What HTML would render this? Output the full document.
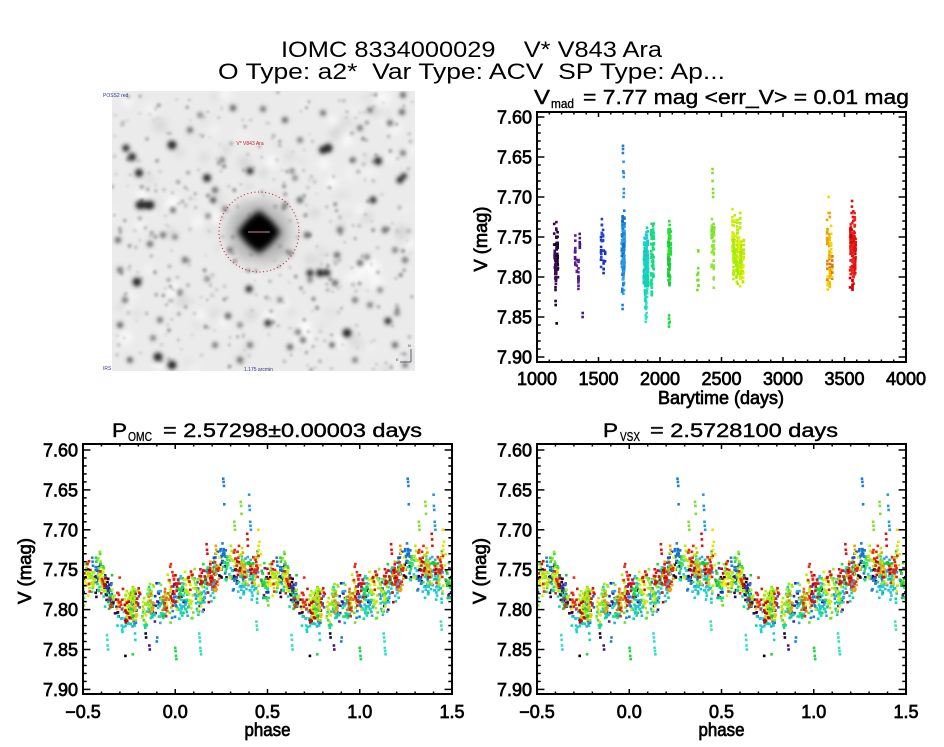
<!DOCTYPE html>
<html>
<head>
<meta charset="utf-8">
<style>
html,body{margin:0;padding:0;background:#fff;}
svg{display:block;}
text{font-family:"Liberation Sans",sans-serif;white-space:pre;}
</style>
</head>
<body>
<svg id="s" width="944" height="747" viewBox="0 0 944 747" xmlns="http://www.w3.org/2000/svg" xml:space="preserve">
<defs>
<filter id="b1" x="-50%" y="-50%" width="200%" height="200%"><feGaussianBlur stdDeviation="1.4"/></filter>
<filter id="b15" x="-50%" y="-50%" width="200%" height="200%"><feGaussianBlur stdDeviation="2"/></filter>
<filter id="b3" x="-50%" y="-50%" width="200%" height="200%"><feGaussianBlur stdDeviation="3.5"/></filter>
<filter id="b5" x="-50%" y="-50%" width="200%" height="200%"><feGaussianBlur stdDeviation="7"/></filter>
<clipPath id="ci"><rect x="112" y="91" width="303" height="280"/></clipPath>
<clipPath id="c1"><rect x="537" y="112" width="369" height="250"/></clipPath>
<clipPath id="c2"><rect x="83" y="444" width="369" height="250"/></clipPath>
<clipPath id="c3"><rect x="537" y="444" width="369" height="250"/></clipPath>
</defs>
<rect width="944" height="747" fill="#ffffff"/>

<!-- Main titles -->
<text x="281" y="57" font-size="22" textLength="381" lengthAdjust="spacingAndGlyphs" xml:space="preserve">IOMC 8334000029    V* V843 Ara</text>
<text x="218" y="79" font-size="22" textLength="507" lengthAdjust="spacingAndGlyphs" xml:space="preserve">O Type: a2*  Var Type: ACV  SP Type: Ap...</text>

<!-- Image panel -->
<g clip-path="url(#ci)">
  <rect x="112" y="91" width="303" height="280" fill="#ebebeb"/>
  <g id="mottle" filter="url(#b3)"></g>
  <g id="faint" filter="url(#b1)"></g>
  <g id="stars" filter="url(#b15)"></g>
  <line x1="112" y1="232" x2="415" y2="232" stroke="#a0a0a0" stroke-width="2" filter="url(#b1)"/>
  <line x1="259" y1="91" x2="259" y2="371" stroke="#aaaaaa" stroke-width="2" filter="url(#b1)"/>
  <circle cx="259" cy="232" r="32" fill="#8a8a8a" opacity="0.55" filter="url(#b5)"/>
  <circle cx="259" cy="232" r="15" fill="#1a1a1a" filter="url(#b3)"/>
  <polygon points="259,210 281,232 259,254 237,232" fill="#050505" filter="url(#b3)"/>
  <line x1="228" y1="232" x2="290" y2="232" stroke="#303030" stroke-width="5" filter="url(#b15)"/>
  <line x1="259" y1="202" x2="259" y2="262" stroke="#303030" stroke-width="5" filter="url(#b15)"/>
  <line x1="248" y1="232" x2="270" y2="232" stroke="#c888a8" stroke-width="1"/>
  <circle cx="259" cy="232" r="1" fill="#d02020"/>
  <circle cx="259" cy="232" r="40" fill="none" stroke="#c01818" stroke-width="1" stroke-dasharray="1 2.6"/>
  <text x="250" y="145" font-size="5" fill="#c02020" text-anchor="middle">V* V843 Ara</text>
  <line x1="411" y1="349" x2="411" y2="362" stroke="#404040" stroke-width="0.8"/>
  <line x1="400" y1="362" x2="411" y2="362" stroke="#404060" stroke-width="0.8"/>
</g>
<text x="103" y="97" font-size="5" fill="#2a3a9a">POSS2 red</text>
<text x="103" y="370" font-size="5" fill="#2a3a9a">IRS</text>
<text x="244" y="371" font-size="5" fill="#2a3a9a">1.175 arcmin</text>
<text x="408" y="347" font-size="4" fill="#404040">N</text>
<text x="396" y="361" font-size="4" fill="#404040">E</text>

<!-- Top-right plot -->
<text x="534" y="104" font-size="20" textLength="16" lengthAdjust="spacingAndGlyphs" stroke="#000" stroke-width="0.4">V</text>
<text x="551" y="108" font-size="13" textLength="23" lengthAdjust="spacingAndGlyphs" stroke="#000" stroke-width="0.3">mad</text>
<text x="583" y="104" font-size="20" textLength="326" lengthAdjust="spacingAndGlyphs" stroke="#000" stroke-width="0.4" xml:space="preserve">= 7.77 mag &lt;err_V&gt; = 0.01 mag</text>

<g clip-path="url(#c1)" id="p1"></g>
<rect x="537" y="112" width="369" height="250" fill="none" stroke="#000" stroke-width="2"/>

<g font-size="18" text-anchor="end" stroke="#000" stroke-width="0.7">
<text x="532" y="123.5">7.60</text>
<text x="532" y="163.5">7.65</text>
<text x="532" y="203.5">7.70</text>
<text x="532" y="243.5">7.75</text>
<text x="532" y="283.5">7.80</text>
<text x="532" y="323.5">7.85</text>
<text x="532" y="363.5">7.90</text>
</g>
<g font-size="18" text-anchor="middle" stroke="#000" stroke-width="0.7">
<text x="537" y="385">1000</text>
<text x="598.5" y="385">1500</text>
<text x="660" y="385">2000</text>
<text x="721.5" y="385">2500</text>
<text x="783" y="385">3000</text>
<text x="844.5" y="385">3500</text>
<text x="906" y="385">4000</text>
<text x="721" y="404" textLength="126" lengthAdjust="spacingAndGlyphs">Barytime (days)</text>
<text transform="translate(487,239) rotate(-90)" x="0" y="0" textLength="65" lengthAdjust="spacingAndGlyphs">V (mag)</text>
</g>

<!-- Bottom-left plot -->
<text x="112" y="437" font-size="19" textLength="15" lengthAdjust="spacingAndGlyphs" stroke="#000" stroke-width="0.4">P</text>
<text x="128" y="441" font-size="13" textLength="24" lengthAdjust="spacingAndGlyphs" stroke="#000" stroke-width="0.3">OMC</text>
<text x="163" y="437" font-size="19" textLength="259" lengthAdjust="spacingAndGlyphs" stroke="#000" stroke-width="0.4" xml:space="preserve">= 2.57298±0.00003 days</text>

<g clip-path="url(#c2)" id="p2"></g>
<rect x="83" y="444" width="369" height="250" fill="none" stroke="#000" stroke-width="2"/>

<g font-size="18" text-anchor="end" stroke="#000" stroke-width="0.7">
<text x="78" y="456.5">7.60</text>
<text x="78" y="496.4">7.65</text>
<text x="78" y="536.3">7.70</text>
<text x="78" y="576.2">7.75</text>
<text x="78" y="616.1">7.80</text>
<text x="78" y="656">7.85</text>
<text x="78" y="695.9">7.90</text>
</g>
<g font-size="18" text-anchor="middle" stroke="#000" stroke-width="0.7">
<text x="83" y="718">−0.5</text>
<text x="175.25" y="718">0.0</text>
<text x="267.5" y="718">0.5</text>
<text x="359.75" y="718">1.0</text>
<text x="452" y="718">1.5</text>
<text x="267.5" y="736" textLength="46" lengthAdjust="spacingAndGlyphs">phase</text>
<text transform="translate(31,571) rotate(-90)" x="0" y="0" textLength="66" lengthAdjust="spacingAndGlyphs">V (mag)</text>
</g>

<!-- Bottom-right plot -->
<text x="603" y="437" font-size="19" textLength="15" lengthAdjust="spacingAndGlyphs" stroke="#000" stroke-width="0.4">P</text>
<text x="620" y="441" font-size="13" textLength="20" lengthAdjust="spacingAndGlyphs" stroke="#000" stroke-width="0.3">VSX</text>
<text x="650" y="437" font-size="19" textLength="188" lengthAdjust="spacingAndGlyphs" stroke="#000" stroke-width="0.4" xml:space="preserve">= 2.5728100 days</text>

<g clip-path="url(#c3)" id="p3"></g>
<rect x="537" y="444" width="369" height="250" fill="none" stroke="#000" stroke-width="2"/>

<g font-size="18" text-anchor="end" stroke="#000" stroke-width="0.7">
<text x="532" y="456.5">7.60</text>
<text x="532" y="496.4">7.65</text>
<text x="532" y="536.3">7.70</text>
<text x="532" y="576.2">7.75</text>
<text x="532" y="616.1">7.80</text>
<text x="532" y="656">7.85</text>
<text x="532" y="695.9">7.90</text>
</g>
<g font-size="18" text-anchor="middle" stroke="#000" stroke-width="0.7">
<text x="537" y="718">−0.5</text>
<text x="629.25" y="718">0.0</text>
<text x="721.5" y="718">0.5</text>
<text x="813.75" y="718">1.0</text>
<text x="906" y="718">1.5</text>
<text x="721.5" y="736" textLength="46" lengthAdjust="spacingAndGlyphs">phase</text>
<text transform="translate(486,571) rotate(-90)" x="0" y="0" textLength="66" lengthAdjust="spacingAndGlyphs">V (mag)</text>
</g>

<g id="ticks" stroke="#000" stroke-width="1.5"></g>
</svg>

<script>
(function(){
var NS="http://www.w3.org/2000/svg";
function mk(p,tag,a){var e=document.createElementNS(NS,tag);for(var k in a)e.setAttribute(k,a[k]);p.appendChild(e);return e;}
function mulberry32(a){return function(){a|=0;a=a+0x6D2B79F5|0;var t=Math.imul(a^a>>>15,1|a);t=t+Math.imul(t^t>>>7,61|t)^t;return((t^t>>>14)>>>0)/4294967296;};}
var rnd=mulberry32(20240521);
function gauss(){var u=0;while(u===0)u=rnd();var v=rnd();return Math.sqrt(-2*Math.log(u))*Math.cos(2*Math.PI*v);}

/* ---------- ticks ---------- */
var tk=document.getElementById('ticks');
function yTop(v){return 117+(v-7.6)*800;}
function yBot(v){return 450+(v-7.6)*798;}
function frameTicks(L,T,W,H,yOf,nx){
  var i,y,len,x;
  for(i=0;i<=30;i++){
    y=yOf(7.60+i*0.01);len=(i%5===0)?7.4:3.7;
    mk(tk,'line',{x1:L,y1:y,x2:L+len,y2:y});
    mk(tk,'line',{x1:L+W,y1:y,x2:L+W-len,y2:y});
  }
  for(i=0;i<=nx;i++){
    x=L+i*W/nx;len=(i%5===0)?5:2.5;
    mk(tk,'line',{x1:x,y1:T+H,x2:x,y2:T+H-len});
    mk(tk,'line',{x1:x,y1:T,x2:x,y2:T+len});
  }
}
frameTicks(537,112,369,250,yTop,30);
frameTicks(83,444,369,250,yBot,20);
frameTicks(537,444,369,250,yBot,20);

/* ---------- data ---------- */
var LC=[[0,7.787],[0.1,7.779],[0.15,7.766],[0.2,7.755],[0.3,7.742],[0.4,7.752],[0.5,7.762],[0.58,7.757],[0.65,7.776],[0.72,7.794],[0.8,7.795],[0.9,7.790],[1.0,7.787]];
function f(p){for(var i=0;i<LC.length-1;i++){if(p>=LC[i][0]&&p<=LC[i+1][0]){var a=(p-LC[i][0])/(LC[i+1][0]-LC[i][0]);return LC[i][1]+a*(LC[i+1][1]-LC[i][1]);}}return 7.787;}
var seasons=[
 {t0:1135,t1:1172,n:85,c:['#000000','#2a0840','#3a0c58','#1a0428'],o:0.006},
 {t0:1305,t1:1375,n:36,c:['#4a1684','#5a1e9a'],o:0.006},
 {t0:1515,t1:1560,n:30,c:['#1830c0','#2244d0'],o:0.0},
 {t0:1688,t1:1714,n:150,c:['#1e80d8','#2a98e0','#1470c8','#30a8e8'],o:0.002},
 {t0:1868,t1:1905,n:160,c:['#10d8c8','#00e0b0','#20c8d8','#10d0a8'],o:0.012},
 {t0:1925,t1:1950,n:75,c:['#10e090','#20d878'],o:0.008},
 {t0:2066,t1:2090,n:85,c:['#20d840','#30e030','#18c838'],o:-0.002},
 {t0:2300,t1:2316,n:10,c:['#70e020'],o:0.02},
 {t0:2416,t1:2442,n:45,c:['#78e030','#90e828'],o:-0.008},
 {t0:2588,t1:2682,n:210,c:['#b0f000','#d0f000','#e0f000','#c0e800','#a0e810'],o:-0.003},
 {t0:3358,t1:3402,n:70,c:['#f0c000','#f0a000','#e07010','#f0d800','#e88000'],o:0.004},
 {t0:3545,t1:3592,n:160,c:['#e01010','#e82020','#d00000','#f02818'],o:-0.004}
];
var pts=[];
seasons.forEach(function(s){
  var cnt=0;
  while(cnt<s.n){
    var k=3+Math.floor(rnd()*6);
    var p0=rnd();
    var t=s.t0+rnd()*(s.t1-s.t0);
    var no=gauss()*0.008;
    var col=s.c[Math.floor(rnd()*s.c.length)];
    for(var j=0;j<k&&cnt<s.n;j++,cnt++){
      var p=(p0+j*0.004)%1;
      var V=f(p)+s.o+no+gauss()*0.009;
      pts.push({t:t+(rnd()-0.5)*1.5,p:p,V:V,c:col});
    }
  }
});
function add(c,t,p,arr){arr.forEach(function(V,i){pts.push({t:t+(rnd()-0.5)*4,p:p+i*0.002,V:V,c:c});});}
add('#1e80d8',1700,0.26,[7.636,7.640,7.645,7.668]);
add('#2a98e0',1705,0.40,[7.656,7.670,7.675,7.690,7.695,7.700]);
add('#30e0c8',1885,0.13,[7.830,7.835,7.840,7.848,7.852,7.856]);
add('#30e0c8',1890,0.63,[7.832,7.838,7.845,7.850]);
add('#40e0b0',1895,0.44,[7.815,7.820,7.825]);
add('#10d8c8',1880,0.78,[7.820,7.830,7.838]);
add('#10d8c8',1882,0.71,[7.820,7.825,7.828]);
add('#20d840',2075,0.0,[7.848,7.852,7.858,7.862]);
add('#20d840',2080,0.77,[7.856]);
add('#80e030',2428,0.355,[7.665,7.670,7.680]);
add('#80e030',2430,0.32,[7.690,7.695,7.700]);
add('#000000',1160,0.73,[7.858]);
add('#1a0428',1150,0.84,[7.830,7.835]);
add('#4a1684',1370,0.86,[7.845,7.850]);
add('#e01010',3560,0.39,[7.705,7.712,7.720]);
add('#f0d800',3370,0.45,[7.700,7.720]);
add('#1e80d8',1695,0.9,[7.840,7.835]);
add('#e01010',3570,0.17,[7.718,7.725,7.73]);
add('#f0a000',3380,0.22,[7.72,7.725]);
add('#1e80d8',1700,0.55,[7.735,7.74,7.745]);
add('#20d840',2080,0.57,[7.735,7.74]);

var g1=document.getElementById('p1'),g2=document.getElementById('p2'),g3=document.getElementById('p3');
var S=2.6,h=S/2;
pts.forEach(function(d){
  var x=537+(d.t-1000)*0.123,y=yTop(d.V);
  mk(g1,'rect',{x:(x-h).toFixed(1),y:(y-h).toFixed(1),width:S,height:S,fill:d.c});
  var yb=yBot(d.V);
  var ps=[d.p,d.p<0.5?d.p+1:d.p-1];
  ps.forEach(function(p){
    var xl=83+(p+0.5)*184.5, xr=537+(p+0.5)*184.5;
    mk(g2,'rect',{x:(xl-h).toFixed(1),y:(yb-h).toFixed(1),width:S,height:S,fill:d.c});
    mk(g3,'rect',{x:(xr-h+0.3).toFixed(1),y:(yb-h).toFixed(1),width:S,height:S,fill:d.c});
  });
});

/* ---------- star field ---------- */
var mo=document.getElementById('mottle'),fa=document.getElementById('faint'),st=document.getElementById('stars');
var i;
for(i=0;i<140;i++){
  var gv=rnd()<0.5?Math.floor(240+rnd()*14):Math.floor(215+rnd()*14);
  mk(mo,'circle',{cx:112+rnd()*303,cy:91+rnd()*280,r:3+rnd()*5,fill:'rgb('+gv+','+gv+','+gv+')'});
}
for(i=0;i<380;i++){
  var g=Math.floor(160+rnd()*50);
  mk(fa,'circle',{cx:112+rnd()*303,cy:91+rnd()*280,r:1.0+rnd()*1.5,fill:'rgb('+g+','+g+','+g+')'});
}
var big=[[172,145,4.5],[132,157,4],[139,173,4],[207,178,4],[140,205,4.5],[150,205,4.5],[145,205,4],
[137,282,4.5],[328,148,4.5],[323,150,4],[378,161,4],[373,200,3.5],[400,180,3.5],[404,176,3],
[347,333,4.5],[158,357,4.5],[172,365,4.5],[320,273,4],[310,273,3.5],[327,273,3.5],[249,289,3.5],
[250,171,3.5],[268,323,3.5],[388,321,3.5],[126,148,3.5]];
big.forEach(function(b){mk(st,'circle',{cx:b[0],cy:b[1],r:b[2],fill:'#262626'});});
var med=[[173,210],[208,216],[225,209],[150,244],[163,235],[175,237],[233,108],[263,109],[222,160],
[292,171],[295,178],[353,160],[323,113],[390,123],[402,112],[307,235],[335,283],[360,263],[367,257],
[290,253],[337,255],[298,332],[153,338],[228,316],[290,347],[303,340],[332,345],[207,279],[397,313],
[403,153],[403,95],[310,280],[213,200],[215,190],[180,292],[160,320],[120,325],[395,345],[405,365],
[130,360],[125,300],[240,325],[250,345],[370,305],[380,290],[355,300],[395,250],[405,260],[285,205],
[300,200],[190,130],[200,115],[360,128],[370,110],[285,120],[300,140],[118,240],[185,260],[230,250],
[280,300],[340,230],[385,230],[240,360],[355,360],[215,345],[120,270]];
med.forEach(function(b){mk(st,'circle',{cx:b[0],cy:b[1],r:2.3+rnd()*0.8,fill:'#4a4a4a'});});
})();
</script>
</body>
</html>
